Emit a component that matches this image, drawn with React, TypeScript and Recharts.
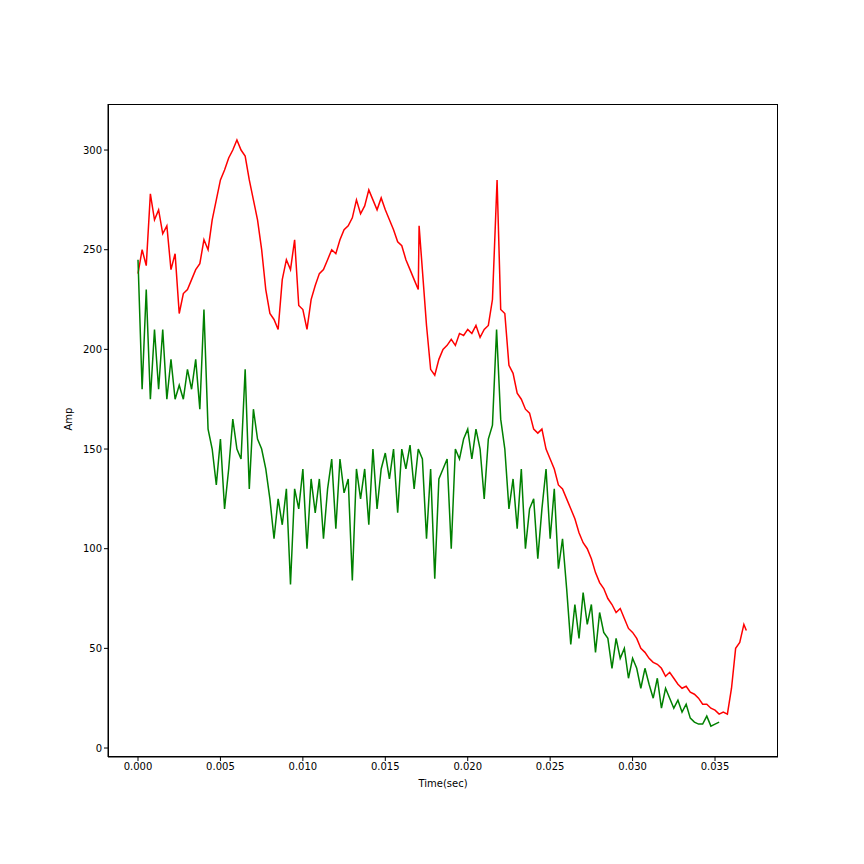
import { Line, LineChart, XAxis, YAxis } from 'recharts'

const redTimes = [
  0, 0.00025, 0.0005, 0.00075, 0.001, 0.00125, 0.0015, 0.00175, 0.002, 0.00225, 0.0025, 0.00275, 0.003, 0.00325,
  0.0035, 0.00375, 0.004, 0.00425, 0.0045, 0.00475, 0.005, 0.00525, 0.0055, 0.00575, 0.006, 0.00625, 0.0065,
  0.00675, 0.007, 0.00725, 0.0075, 0.00775, 0.008, 0.00825, 0.0085, 0.00875, 0.009, 0.00925, 0.0095, 0.00975,
  0.01, 0.01025, 0.0105, 0.01075, 0.011, 0.01125, 0.0115, 0.01175, 0.012, 0.01225, 0.0125, 0.01275, 0.013,
  0.01325, 0.0135, 0.01375, 0.014, 0.01425, 0.0145, 0.01475, 0.015, 0.01525, 0.0155, 0.01575, 0.016, 0.01625,
  0.0165, 0.01675, 0.017, 0.01705, 0.0175, 0.01775, 0.018, 0.01825, 0.0185, 0.01875, 0.019, 0.01925, 0.0195,
  0.01975, 0.02, 0.02025, 0.0205, 0.02075, 0.021, 0.02125, 0.0215, 0.02178, 0.022, 0.02225, 0.0225, 0.02275,
  0.023, 0.02325, 0.0235, 0.02375, 0.024, 0.02425, 0.0245, 0.02475, 0.025, 0.02525, 0.0255, 0.02575, 0.026,
  0.02625, 0.0265, 0.02675, 0.027, 0.02725, 0.0275, 0.02775, 0.028, 0.02825, 0.0285, 0.02875, 0.029, 0.02925,
  0.0295, 0.02975, 0.03, 0.03025, 0.0305, 0.03075, 0.031, 0.03125, 0.0315, 0.03175, 0.032, 0.03225, 0.0325,
  0.03275, 0.033, 0.03325, 0.0335, 0.03375, 0.034, 0.03425, 0.0345, 0.03475, 0.035, 0.03525, 0.0355, 0.03575,
  0.036, 0.03625, 0.0365, 0.03675, 0.0369,
]
const redAmp = [
  238, 250, 242, 278, 265, 270, 258, 262, 240, 248, 218, 228, 230, 235, 240, 243, 255, 250, 265, 275, 285, 290,
  296, 300, 305, 300, 297, 285, 275, 265, 250, 230, 218, 215, 210, 235, 245, 240, 255, 222, 220, 210, 225, 232,
  238, 240, 245, 250, 248, 255, 260, 262, 266, 275, 268, 272, 280, 275, 270, 276, 270, 265, 260, 254, 252, 245,
  240, 235, 230, 262, 212, 190, 187, 195, 200, 202, 205, 202, 208, 207, 210, 208, 212, 206, 210, 212, 225, 285,
  220, 218, 192, 188, 178, 175, 170, 168, 160, 158, 160, 150, 145, 140, 132, 130, 125, 120, 115, 108, 103, 100,
  95, 88, 83, 80, 75, 72, 68, 70, 65, 60, 58, 55, 50, 48, 45, 43, 42, 40, 36, 38, 35, 32, 30, 31, 28, 27, 25, 22,
  22, 20, 19, 17, 18, 17, 30, 50, 53, 62, 59,
]
const greenTimes = [
  0, 0.00025, 0.0005, 0.00075, 0.001, 0.00125, 0.0015, 0.00175, 0.002, 0.00225, 0.0025, 0.00275, 0.003, 0.00325,
  0.0035, 0.00375, 0.004, 0.00425, 0.0045, 0.00475, 0.005, 0.00525, 0.0055, 0.00575, 0.006, 0.00625, 0.0065,
  0.00675, 0.007, 0.00725, 0.0075, 0.00775, 0.008, 0.00825, 0.0085, 0.00875, 0.009, 0.00925, 0.0095, 0.00975,
  0.01, 0.01025, 0.0105, 0.01075, 0.011, 0.01125, 0.0115, 0.01175, 0.012, 0.01225, 0.0125, 0.01275, 0.013,
  0.01325, 0.0135, 0.01375, 0.014, 0.01425, 0.0145, 0.01475, 0.015, 0.01525, 0.0155, 0.01575, 0.016, 0.01625,
  0.0165, 0.01675, 0.017, 0.01725, 0.0175, 0.01775, 0.018, 0.01825, 0.0185, 0.01875, 0.019, 0.01925, 0.0195,
  0.01975, 0.02, 0.02025, 0.0205, 0.02075, 0.021, 0.02125, 0.0215, 0.02175, 0.022, 0.02225, 0.0225, 0.02275,
  0.023, 0.02325, 0.0235, 0.02375, 0.024, 0.02425, 0.0245, 0.02475, 0.025, 0.02525, 0.0255, 0.02575, 0.026,
  0.02625, 0.0265, 0.02675, 0.027, 0.02725, 0.0275, 0.02775, 0.028, 0.02825, 0.0285, 0.02875, 0.029, 0.02925,
  0.0295, 0.02975, 0.03, 0.03025, 0.0305, 0.03075, 0.031, 0.03125, 0.0315, 0.03175, 0.032, 0.03225, 0.0325,
  0.03275, 0.033, 0.03325, 0.0335, 0.03375, 0.034, 0.03425, 0.0345, 0.03475, 0.035, 0.03525,
]
const greenAmp = [
  245, 180, 230, 175, 210, 180, 210, 175, 195, 175, 182, 175, 190, 180, 195, 170, 220, 160, 150, 132, 155, 120,
  140, 165, 150, 145, 190, 130, 170, 155, 150, 140, 125, 105, 125, 112, 130, 82, 130, 120, 140, 100, 135, 118,
  135, 105, 130, 145, 110, 145, 128, 135, 84, 140, 125, 140, 112, 150, 120, 140, 148, 135, 150, 118, 150, 140,
  152, 130, 150, 145, 105, 140, 85, 135, 140, 145, 100, 150, 145, 155, 160, 145, 160, 150, 125, 155, 162, 210,
  165, 150, 120, 135, 110, 140, 100, 120, 125, 95, 120, 140, 105, 130, 90, 105, 80, 52, 72, 55, 78, 62, 72, 48,
  68, 58, 55, 40, 55, 45, 50, 35, 45, 40, 30, 40, 32, 25, 35, 20, 30, 25, 20, 24, 18, 22, 15, 13, 12, 12, 16, 11,
  12, 13,
]
const xTicks = [0, 0.005, 0.01, 0.015, 0.02, 0.025, 0.03, 0.035]
const yTicks = [0, 50, 100, 150, 200, 250, 300]

const redData = redTimes.map((t, i) => ({ t, v: redAmp[i] }))
const greenData = greenTimes.map((t, i) => ({ t, v: greenAmp[i] }))

const tickStyle = { fontSize: 10, fill: '#000', fontFamily: 'DejaVu Sans' }

export default function App() {
  return (
    <div style={{ position: 'absolute', left: 0, top: 0, width: 864, height: 864, background: '#fff' }}>
      <LineChart width={864} height={864} margin={{ top: 104, right: 86, left: 48, bottom: 67 }}>
        <XAxis
          type="number"
          dataKey="t"
          domain={[-0.00182, 0.03882]}
          ticks={xTicks}
          tickFormatter={(v: number) => v.toFixed(3)}
          tick={tickStyle}
          tickSize={4}
          stroke="#000"
          height={40}
          allowDataOverflow
          label={{ value: 'Time(sec)', position: 'insideBottom', offset: 10, style: tickStyle }}
        />
        <YAxis
          type="number"
          domain={[-4.5, 323.1]}
          ticks={yTicks}
          tick={tickStyle}
          tickSize={4}
          stroke="#000"
          width={60}
          allowDataOverflow
          label={{ value: 'Amp', angle: -90, position: 'insideLeft', offset: 20, style: tickStyle }}
        />
        <Line data={redData} dataKey="v" stroke="#ff0000" strokeWidth={1.5} dot={false} isAnimationActive={false} />
        <Line data={greenData} dataKey="v" stroke="#008000" strokeWidth={1.5} dot={false} isAnimationActive={false} />
      </LineChart>
      {/* frame round the plot area, like matplotlib's spines */}
      <div
        style={{
          position: 'absolute',
          left: 108,
          top: 104,
          width: 670,
          height: 653,
          border: '1px solid #000',
          boxSizing: 'border-box',
          pointerEvents: 'none',
        }}
      />
    </div>
  )
}
